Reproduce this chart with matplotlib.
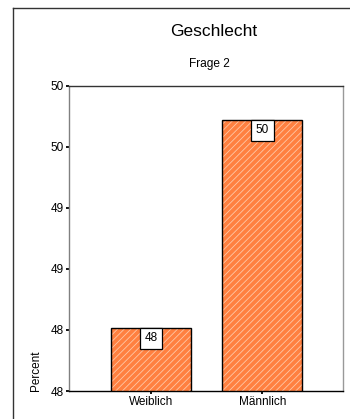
import matplotlib
matplotlib.use("Agg")
import matplotlib.pyplot as plt
from matplotlib.lines import Line2D

plt.rcParams["font.family"] = ["Liberation Sans", "DejaVu Sans"]
plt.rcParams["hatch.linewidth"] = 0.6

# Geschlecht, Frage 2 (percent of respondents)
categories = ["Weiblich", "Männlich"]
percent = [48.02, 49.72]
value_labels = ["48", "50"]
yticks = [47.5, 48.0, 48.5, 49.0, 49.5, 50.0]
ytick_labels = ["48", "48", "49", "49", "50", "50"]

ORANGE = "#FF8040"

fig = plt.figure(figsize=(3.5, 4.19), dpi=100)
ax = fig.add_axes([0.197, 0.0668, 0.782, 0.7287])

x = list(range(len(categories)))
# orange fill with light diagonal hatch, then black outline on top
ax.bar(x, percent, width=0.717, bottom=0, color=ORANGE, edgecolor="#FFC7A6",
       hatch="/////", linewidth=0)
ax.bar(x, percent, width=0.717, fill=False, edgecolor="black", linewidth=1.0)

for xi, v, lab in zip(x, percent, value_labels):
    ax.annotate(lab, (xi, v), xytext=(0, -3.3), textcoords="offset points",
                ha="center", va="top", fontsize=8.5,
                bbox=dict(boxstyle="square,pad=0.38", fc="white", ec="black", lw=0.9))

ax.set_ylim(47.5, 50.0)
ax.set_xlim(-0.735, 1.719)
ax.set_yticks(yticks)
ax.set_yticklabels(ytick_labels)
ax.set_xticks(x)
ax.set_xticklabels(categories)
ax.tick_params(axis="both", direction="out", length=2, width=1.3, color="black",
               labelsize=8.5, pad=1.5)

ax.spines["left"].set_color("#808080")
ax.spines["right"].set_color("#999999")
ax.spines["top"].set_color("#333333")
ax.spines["bottom"].set_color("black")
for s in ax.spines.values():
    s.set_linewidth(1.0)

fig.text(0.611, 0.924, "Geschlecht", ha="center", va="center", fontsize=12.5)
fig.text(0.599, 0.847, "Frage 2", ha="center", va="center", fontsize=8.6)
fig.text(36 / 350, 1 - 391 / 419, "Percent", rotation=90, ha="center",
         va="bottom", fontsize=8.5)

# outer frame (left and top edges)
fig.add_artist(Line2D([13 / 350, 13 / 350], [0, 1 - 8 / 419],
                      transform=fig.transFigure, color="#333333", lw=1.0))
fig.add_artist(Line2D([13 / 350, 1], [1 - 8 / 419, 1 - 8 / 419],
                      transform=fig.transFigure, color="#333333", lw=1.0))

fig.savefig("out.png", dpi=100)
